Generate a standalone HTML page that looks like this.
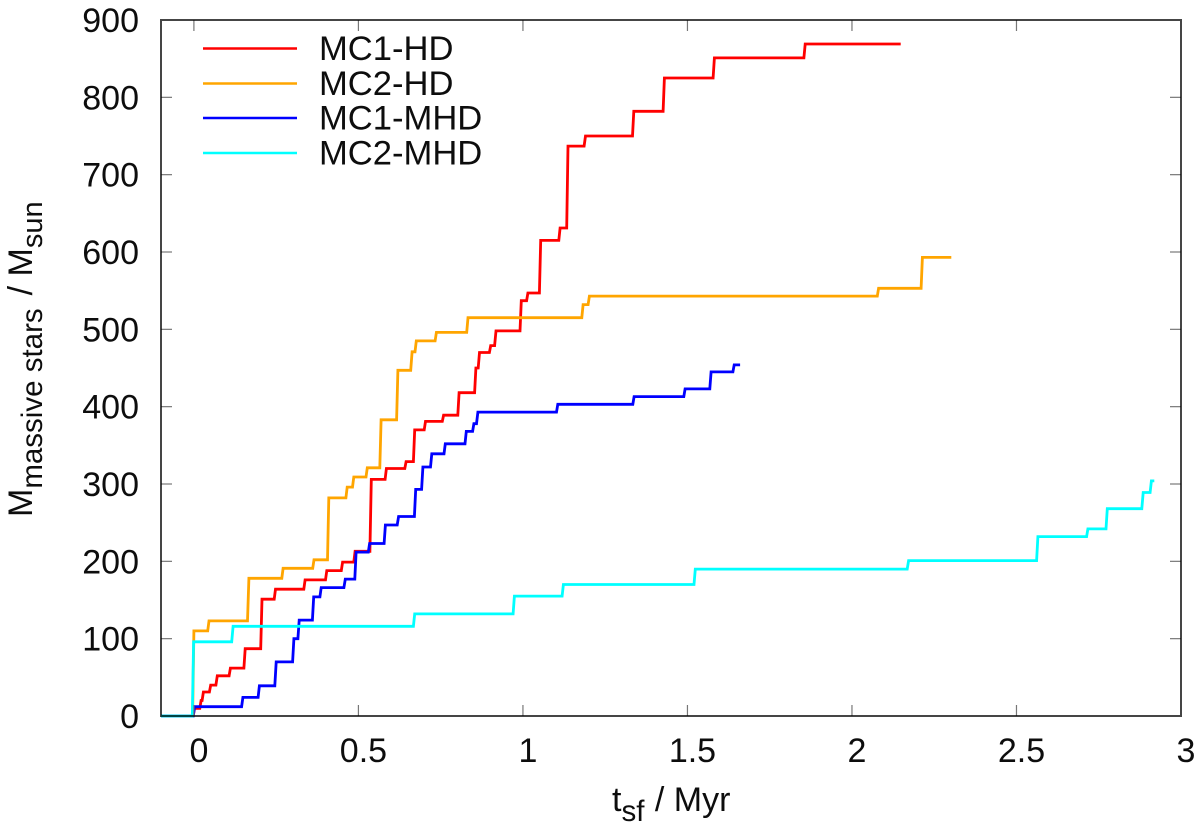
<!DOCTYPE html>
<html>
<head>
<meta charset="utf-8">
<style>
html,body{margin:0;padding:0;background:#fff;width:1200px;height:829px;overflow:hidden}
svg{display:block;font-family:"Liberation Sans",sans-serif}
text{fill:#111}
</style>
</head>
<body>
<svg id="chart" width="1200" height="829" viewBox="0 0 1200 829" xmlns="http://www.w3.org/2000/svg">
<defs><filter id="soft" x="-2%" y="-2%" width="104%" height="104%"><feGaussianBlur stdDeviation="0.35"/></filter></defs>
<g id="root" filter="url(#soft)">
<g id="series-layer"></g>
<g id="axes-layer"></g>
<g>
  <line x1="203" x2="297" y1="48.5" y2="48.5" stroke="#ff0000" stroke-width="2.6"/>
  <text x="319" y="60" font-size="34.6">MC1-HD</text>
  <line x1="203" x2="297" y1="83.5" y2="83.5" stroke="#ffa500" stroke-width="2.6"/>
  <text x="319" y="95" font-size="34.6">MC2-HD</text>
  <line x1="203" x2="297" y1="118" y2="118" stroke="#0000ff" stroke-width="2.6"/>
  <text x="319" y="129.5" font-size="34.6">MC1-MHD</text>
  <line x1="203" x2="297" y1="153" y2="153" stroke="#00ffff" stroke-width="2.6"/>
  <text x="319" y="164.5" font-size="34.6">MC2-MHD</text>
</g>
<text x="612" y="811" font-size="34">t<tspan font-size="29.5" dy="10">sf</tspan><tspan dy="-10" dx="1"> / Myr</tspan></text>
<text transform="translate(32,517) rotate(-90)" font-size="34">M<tspan font-size="29.5" dy="10">massive stars</tspan><tspan dy="-10" dx="3.5"> / M</tspan><tspan font-size="29" dy="10">sun</tspan></text>
</g>
</svg>
<script>
const xTicks = [0, 0.5, 1, 1.5, 2, 2.5, 3];
const xTickLabels = ["0", "0.5", "1", "1.5", "2", "2.5", "3"];
const yTicks = [0, 100, 200, 300, 400, 500, 600, 700, 800, 900];
const yTickLabels = ["0", "100", "200", "300", "400", "500", "600", "700", "800", "900"];

const mc1HdTimes = [-0.1, -0.002, 0.018, 0.025, 0.047, 0.067, 0.107, 0.152, 0.203, 0.244, 0.334, 0.400, 0.448, 0.486, 0.535, 0.581, 0.641, 0.667, 0.700, 0.755, 0.802, 0.853, 0.864, 0.898, 0.914, 0.991, 1.011, 1.050, 1.109, 1.133, 1.186, 1.333, 1.426, 1.578, 1.854, 2.144];
const mc1HdMass = [0, 10, 20, 31, 40, 52, 62, 87, 151, 164, 176, 188, 199, 213, 306, 320, 329, 370, 381, 389, 418, 450, 470, 479, 498, 537, 547, 615, 631, 737, 750, 782, 825, 851, 869, 869];

const mc2HdTimes = [-0.1, -0.004, 0.042, 0.163, 0.267, 0.361, 0.406, 0.462, 0.482, 0.523, 0.565, 0.616, 0.659, 0.672, 0.733, 0.829, 1.179, 1.198, 2.077, 2.210, 2.298];
const mc2HdMass = [0, 110, 123, 178, 191, 202, 282, 296, 309, 321, 383, 447, 471, 485, 496, 515, 532, 543, 553, 593, 593];

const mc1MhdTimes = [-0.1, -0.002, 0.145, 0.195, 0.246, 0.300, 0.316, 0.360, 0.383, 0.456, 0.489, 0.530, 0.578, 0.618, 0.670, 0.692, 0.719, 0.760, 0.824, 0.847, 0.859, 1.102, 1.334, 1.489, 1.568, 1.638, 1.656];
const mc1MhdMass = [0, 12, 24, 39, 70, 100, 124, 154, 166, 177, 212, 223, 247, 258, 293, 322, 339, 352, 368, 378, 393, 403, 413, 423, 445, 454, 454];

const mc2MhdTimes = [-0.1, -0.005, 0.115, 0.667, 0.970, 1.119, 1.520, 2.168, 2.561, 2.713, 2.772, 2.881, 2.906, 2.915];
const mc2MhdMass = [0, 96, 116, 132, 155, 170, 190, 201, 232, 242, 268, 289, 304, 304];

const seriesNames = ["mc1-hd", "mc2-hd", "mc1-mhd", "mc2-mhd"];
const seriesTimes = [mc1HdTimes, mc2HdTimes, mc1MhdTimes, mc2MhdTimes];
const seriesMass = [mc1HdMass, mc2HdMass, mc1MhdMass, mc2MhdMass];
const seriesColors = ["#ff0000", "#ffa500", "#0000ff", "#00ffff"];

const plot = {left: 161, right: 1181, top: 20, bottom: 716};
const xMin = -0.1, xMax = 3, yMin = 0, yMax = 900;
function xScale(t) { return plot.left + (t - xMin) / (xMax - xMin) * (plot.right - plot.left); }
function yScale(m) { return plot.bottom - (m - yMin) / (yMax - yMin) * (plot.bottom - plot.top); }

const NS = "http://www.w3.org/2000/svg";
const seriesLayer = document.getElementById("series-layer");
const axesLayer = document.getElementById("axes-layer");
const RISE = 0.004;

seriesNames.forEach(function (name, s) {
  const ts = seriesTimes[s], ms = seriesMass[s];
  let d = "M" + xScale(ts[0]).toFixed(1) + " " + yScale(ms[0]).toFixed(1);
  for (let i = 1; i < ts.length; i++) {
    d += " L" + xScale(ts[i]).toFixed(1) + " " + yScale(ms[i - 1]).toFixed(1);
    d += " L" + xScale(ts[i] + RISE).toFixed(1) + " " + yScale(ms[i]).toFixed(1);
  }
  const p = document.createElementNS(NS, "path");
  
  
  p.setAttribute("d", d);
  p.setAttribute("fill", "none");
  p.setAttribute("stroke", seriesColors[s]);
  p.setAttribute("stroke-width", "2.8");
  p.setAttribute("stroke-linejoin", "miter");
  seriesLayer.appendChild(p);
});

function tickLine(x1, y1, x2, y2, nm) {
  const l = document.createElementNS(NS, "line");
  
  
  l.setAttribute("x1", x1);
  l.setAttribute("y1", y1);
  l.setAttribute("x2", x2);
  l.setAttribute("y2", y2);
  l.setAttribute("stroke", "#777");
  l.setAttribute("stroke-width", "1.2");
  axesLayer.appendChild(l);
}
function tickText(x, y, str, anchor, nm) {
  const t = document.createElementNS(NS, "text");
  
  
  t.setAttribute("x", x);
  t.setAttribute("y", y);
  t.setAttribute("font-size", "34");
  t.setAttribute("text-anchor", anchor);
  t.textContent = str;
  axesLayer.appendChild(t);
}
xTicks.forEach(function (v, i) {
  if (v > xMin && v < xMax) {
    tickLine(xScale(v), plot.bottom, xScale(v), plot.bottom - 11, "x-tick");
    tickLine(xScale(v), plot.top, xScale(v), plot.top + 11, "x-tick-top");
  }
  tickText(xScale(v) + 5, 762, xTickLabels[i], "middle", "x-tick-label");
});
yTicks.forEach(function (v, i) {
  if (v > yMin && v < yMax) {
    tickLine(plot.left, yScale(v), plot.left + 11, yScale(v), "y-tick");
    tickLine(plot.right, yScale(v), plot.right - 11, yScale(v), "y-tick-right");
  }
  tickText(139, yScale(v) + 12, yTickLabels[i], "end", "y-tick-label");
});
const frame = document.createElementNS(NS, "rect");


frame.setAttribute("x", plot.left);
frame.setAttribute("y", plot.top);
frame.setAttribute("width", plot.right - plot.left);
frame.setAttribute("height", plot.bottom - plot.top);
frame.setAttribute("fill", "none");
frame.setAttribute("stroke", "#444");
frame.setAttribute("stroke-width", "2");
frame.setAttribute("style", "mix-blend-mode:multiply");
axesLayer.appendChild(frame);
</script>
</body>
</html>
